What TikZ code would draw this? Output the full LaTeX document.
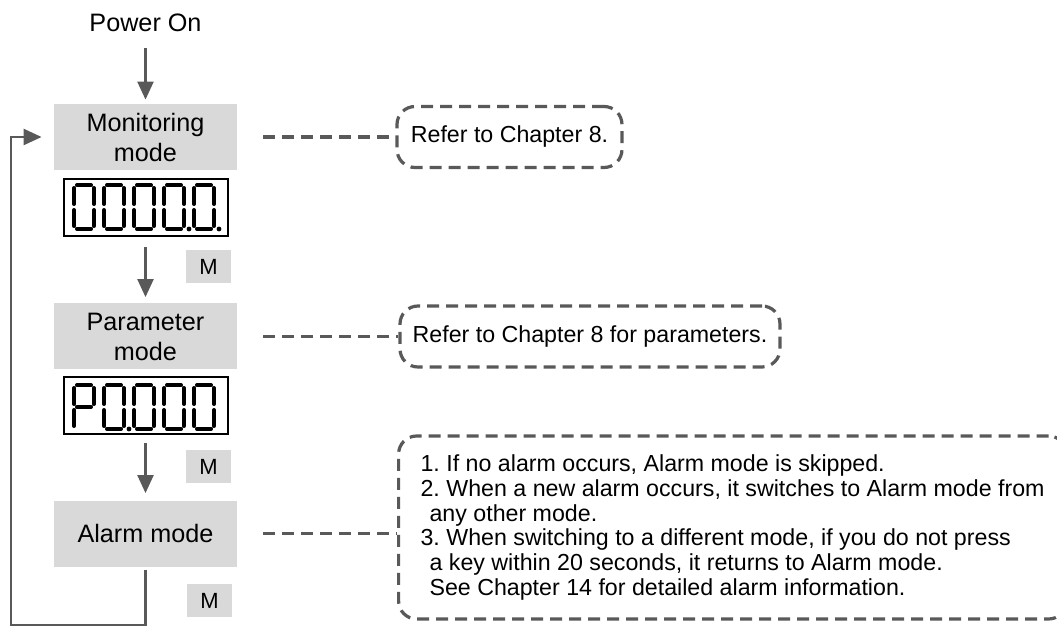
\documentclass[tikz,border=0pt]{standalone}
\usepackage{fontspec}
\setmainfont{Liberation Sans}
\usetikzlibrary{arrows.meta,positioning}
\definecolor{flowGray}{HTML}{595959}
\definecolor{boxGray}{HTML}{D9D9D9}
\frenchspacing
\tikzset{
  modeBox/.style={
    fill=boxGray,
    minimum width=91.5pt,
    minimum height=33pt,
    align=center,
    inner sep=0pt,
    font=\fontsize{12.6}{15}\selectfont
  },
  keyBox/.style={
    fill=boxGray,
    minimum width=22.5pt,
    minimum height=16.5pt,
    inner sep=0pt,
    font=\fontsize{11}{13}\selectfont
  },
  dispBox/.style={
    draw=black,
    line width=1pt,
    minimum width=82pt,
    minimum height=28.5pt,
    inner sep=0pt
  },
  noteBox/.style={
    draw=flowGray,
    line width=1.6pt,
    dash pattern=on 6pt off 3.5pt,
    rounded corners=9pt,
    align=left,
    font=\fontsize{11.6}{12.4}\selectfont
  },
  noteLine/.style={flowGray, line width=1.6pt, dash pattern=on 6pt off 3.5pt},
  flowArrow/.style={flowGray, line width=1.15pt, -{Triangle[length=9pt,width=8pt]}},
  segLine/.style={line width=2pt, line cap=round},
  zeroDigit/.pic={
    \draw[segLine] (3,0) -- (17,0) (20,3) -- (20,19) (20,25) -- (20,41)
      (3,44) -- (17,44) (0,25) -- (0,41) (0,3) -- (0,19);
  },
  pDigit/.pic={
    \draw[segLine] (3,0) -- (17,0) (20,3) -- (20,19) (3,22) -- (17,22)
      (0,3) -- (0,19) (0,25) -- (0,41);
  },
  segDot/.pic={\fill (0,0) circle[radius=1.2pt];}
}
\begin{document}
\begin{tikzpicture}[x=0.5pt,y=-0.5pt]
  \useasboundingbox (0,0) rectangle (1057,626);

  % mode column
  \node[font=\fontsize{12.6}{15}\selectfont] (power) at (145.5,23) {Power On};
  \node[modeBox] (monitor) at (145.5,137) {Monitoring\\mode};
  \node[dispBox] (monitorDisp) at (145.5,207.5) {};
  \node[keyBox] (keyM1) at (208.5,266.5) {M};
  \node[modeBox] (param) at (145.5,336.5) {Parameter\\mode};
  \node[dispBox] (paramDisp) at (145.5,406) {};
  \node[keyBox] (keyM2) at (208.5,466.5) {M};
  \node[modeBox] (alarm) at (145.5,533.5) {Alarm mode};
  \node[keyBox] (keyM3) at (209.5,600.5) {M};
  \coordinate (loopCorner) at (11,625);

  % seven segment readouts
  \pic at (74,185) {zeroDigit};
  \pic at (104,185) {zeroDigit};
  \pic at (134,185) {zeroDigit};
  \pic at (164,185) {zeroDigit};
  \pic at (189,229) {segDot};
  \pic at (194,185) {zeroDigit};
  \pic at (219,229) {segDot};

  \pic at (74,385) {pDigit};
  \pic at (104,385) {zeroDigit};
  \pic at (129,429) {segDot};
  \pic at (134,385) {zeroDigit};
  \pic at (164,385) {zeroDigit};
  \pic at (194,385) {zeroDigit};

  % notes
  \node[noteBox, minimum width=112.5pt, minimum height=30.5pt, inner sep=0pt]
    (noteMonitor) at (509.5,137) {Refer to Chapter 8.};
  \node[noteBox, minimum width=190pt, minimum height=30.5pt, inner sep=0pt]
    (noteParam) at (590,336.5) {Refer to Chapter 8 for parameters.};
  \node[noteBox, anchor=west, inner xsep=10.5pt, minimum width=334pt, minimum height=91.5pt]
    (noteAlarm) at (397,527.5)
    {1. If no alarm occurs, Alarm mode is skipped.\\
     2. When a new alarm occurs, it switches to Alarm mode from\\
     \hspace*{4.5pt}any other mode.\\
     3. When switching to a different mode, if you do not press\\
     \hspace*{4.5pt}a key within 20 seconds, it returns to Alarm mode.\\
     \hspace*{4.5pt}See Chapter 14 for detailed alarm information.};

  % flow
  \draw[flowArrow, shorten <=4.5pt, shorten >=2pt] (power) -- (monitor);
  \draw[flowArrow, shorten <=5pt, shorten >=3pt] (monitorDisp) -- (param);
  \draw[flowArrow, shorten <=4pt, shorten >=3.5pt] (paramDisp) -- (alarm);
  \draw[flowArrow, shorten <=1.5pt, shorten >=6pt] (alarm.south) -- (alarm.south |- loopCorner)
    -- (loopCorner) |- (monitor.west);

  \draw[noteLine, shorten <=13pt] (monitor.east) -- (noteMonitor.west);
  \draw[noteLine, shorten <=13pt] (param.east) -- (noteParam.west);
  \draw[noteLine, shorten <=13pt] (alarm.east) -- (alarm.east -| noteAlarm.west);
\end{tikzpicture}
\end{document}
